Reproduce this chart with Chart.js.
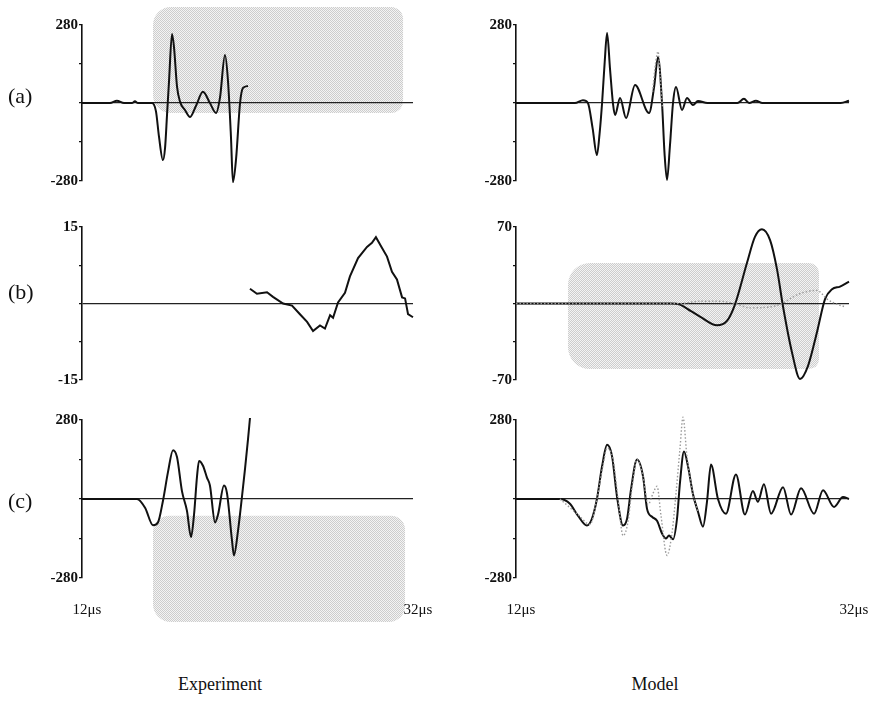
<!DOCTYPE html>
<html>
<head>
<meta charset="utf-8">
<script src="https://cdn.jsdelivr.net/npm/chart.js@4.4.1/dist/chart.umd.min.js"></script>
<style>
    body { margin: 0; background: #fff; width: 882px; height: 702px; position: relative; overflow: hidden;
           font-family: 'Liberation Serif', 'Times New Roman', serif; color: #111; }
    canvas { position: absolute; }
    .lab { position: absolute; left: 8px; font-size: 22px; line-height: 22px; }
    .cap { position: absolute; top: 673px; font-size: 18px; line-height: 22px; width: 200px; text-align: center; }
</style>
</head>
<body>
<canvas id="expA" width="441" height="200" style="left:0;top:0"></canvas>
<canvas id="modA" width="441" height="200" style="left:441px;top:0"></canvas>
<canvas id="expB" width="441" height="200" style="left:0;top:200px"></canvas>
<canvas id="modB" width="441" height="200" style="left:441px;top:200px"></canvas>
<canvas id="expC" width="441" height="240" style="left:0;top:400px"></canvas>
<canvas id="modC" width="441" height="240" style="left:441px;top:400px"></canvas>

<div class="lab" style="top:85px">(a)</div>
<div class="lab" style="top:281px">(b)</div>
<div class="lab" style="top:490px">(c)</div>
<div class="cap" style="left:120px">Experiment</div>
<div class="cap" style="left:555px">Model</div>

<script>
// time axis, microseconds
const timeRange = [12, 32];

// (a) experiment
const expA_t = [12, 13.69, 14.11, 14.54, 15.02, 15.2, 15.38, 16.23, 16.47, 16.65, 16.89, 17.02, 17.14, 17.26, 17.44, 17.56, 17.74, 17.92, 18.22, 18.53, 18.89, 19.31, 19.73, 20.10, 20.34, 20.64, 20.82, 21.00, 21.12, 21.31, 21.55, 21.73, 22.03];
const expA_v = [0, 0, 8, 0, 0, 6, 0, 0, -30, -120, -205, -160, -40, 80, 248, 200, 60, 5, -25, -50, -10, 40, 0, -36, 20, 172, 80, -120, -284, -200, 0, 54, 61];

// (a) model
const modA_t = [12, 15.54, 16.02, 16.32, 16.6, 16.86, 17.02, 17.17, 17.33, 17.47, 17.65, 17.83, 17.95, 18.25, 18.61, 19.15, 19.99, 20.3, 20.53, 20.77, 20.92, 21.07, 21.25, 21.43, 21.61, 21.97, 22.27, 22.63, 22.93, 23.5, 25.3, 25.69, 26.0, 26.41, 26.8, 31.5, 32];
const modA_v = [0, 0, 10, 0, -90, -187, -110, 0, 150, 251, 120, -5, -43, 18, -54, 65, -36, 60, 165, 0, -180, -276, -150, 0, 57, -25, 18, -7, 7, 0, 0, 15, 0, 8, 0, 0, 8];
const modA2_t = [20.2, 20.4, 20.53, 20.65, 20.8];
const modA2_v = [40, 150, 185, 100, -20];

// (b) experiment
const expB_t = [22.15, 22.57, 23.18, 23.54, 24.15, 24.69, 25.17, 25.60, 25.96, 26.38, 26.68, 26.99, 27.17, 27.47, 27.89, 28.19, 28.68, 29.22, 29.52, 29.76, 30.13, 30.43, 30.73, 31.03, 31.34, 31.52, 31.70, 32.0];
const expB_v = [2.9, 1.9, 2.2, 1.3, 0, -0.4, -2.1, -3.6, -5.4, -4.3, -4.9, -2.3, -2.8, 0.2, 2.1, 5.3, 8.9, 11.1, 11.9, 13.0, 10.9, 9.2, 6.2, 4.7, 1.2, 1.0, -2.1, -2.7];

// (b) model
const modB_t = [12, 21.31, 21.85, 22.51, 23.05, 24.07, 24.67, 25.15, 25.87, 26.35, 26.77, 27.26, 27.68, 28.04, 28.58, 29.06, 29.54, 30.08, 30.56, 30.98, 31.46, 32];
const modB_v = [0, 0, -1, -7, -12, -20, -16, -1, 37, 61, 68, 58, 31, -3, -45, -69, -57, -26, 4, 13, 15.5, 20];
const modB2_t = [12, 21.85, 23.05, 24.25, 25.15, 26.05, 27.26, 27.98, 28.76, 29.48, 30.08, 30.68, 31.16, 31.76];
const modB2_v = [0, 0, 2, 2, 0, -4, -3, 0, 7, 11, 12, 4, 0, -3];

// (c) experiment
const expC_t = [12, 15.32, 15.81, 16.29, 16.59, 16.89, 17.20, 17.50, 17.74, 18.04, 18.34, 18.59, 18.77, 18.95, 19.07, 19.31, 19.55, 19.73, 20.04, 20.22, 20.58, 20.76, 21.06, 21.18, 21.43, 21.67, 21.85, 22.03, 22.15];
const expC_v = [0, 0, -31, -93, -83, -7, 97, 173, 149, 28, -41, -135, -55, 80, 135, 118, 76, 48, -83, -55, 48, 21, -145, -200, -111, 10, 107, 211, 287];

// (c) model
const modC_t = [12, 14.64, 15.24, 15.72, 16.26, 16.56, 16.86, 17.17, 17.47, 17.77, 18.07, 18.43, 18.67, 18.91, 19.27, 19.63, 19.87, 20.17, 20.47, 20.77, 21.01, 21.19, 21.43, 21.67, 21.85, 22.09, 22.33, 22.63, 22.93, 23.23, 23.47, 23.71, 24.13, 24.61, 25.21, 25.75, 26.23, 26.53, 26.89, 27.32, 28.04, 28.52, 29.12, 29.90, 30.44, 31.10, 31.64, 32.0];
const modC_v = [0, 0, -17, -59, -94, -70, 0, 116, 192, 151, 7, -94, -70, 35, 140, 80, -35, -63, -77, -122, -140, -129, -143, -70, 59, 168, 116, 17, -45, -98, -10, 122, 0, -52, 87, -55, 28, -10, 52, -52, 42, -55, 38, -52, 31, -28, 7, 0];
const modC2_t = [14.64, 15.72, 16.44, 16.86, 17.23, 17.47, 17.83, 18.13, 18.43, 18.73, 18.97, 19.27, 19.63, 19.93, 20.23, 20.47, 20.71, 21.07, 21.37, 21.61, 21.85, 22.03, 22.27, 22.63, 22.93];
const modC2_v = [0, -55, -90, 0, 120, 180, 140, 0, -130, -80, 40, 140, 80, -20, 20, 45, -60, -200, -120, 20, 180, 290, 150, 17, -45];

// shaded regions [t start, t end, top value, bottom value]
const shadeExpA = [16.29, 31.40, 345, -36];
const shadeModB = [15.12, 30.20, 37, -60];
const shadeExpC = [16.29, 31.52, -59, -436];

// dotted grey fill for the shaded boxes
const dots = document.createElement('canvas');
dots.width = 2; dots.height = 2;
const dctx = dots.getContext('2d');
dctx.fillStyle = '#f4f4f4';
dctx.fillRect(0, 0, 2, 2);
dctx.fillStyle = '#cdcdcd';
dctx.fillRect(0, 0, 1, 1);
dctx.fillRect(1, 1, 1, 1);

const shadePlugin = {
    id: 'shade',
    beforeDraw(chart, args, opts) {
        if (!opts.box) return;
        const [t0, t1, v0, v1] = opts.box;
        const x = chart.scales.x, y = chart.scales.y;
        const left = x.getPixelForValue(t0), right = x.getPixelForValue(t1);
        const top = y.getPixelForValue(v0), bottom = y.getPixelForValue(v1);
        const ctx = chart.ctx;
        ctx.save();
        ctx.fillStyle = ctx.createPattern(dots, 'repeat');
        ctx.beginPath();
        ctx.roundRect(left, top, right - left, bottom - top, opts.radius || [18, 12, 12, 18]);
        ctx.fill();
        ctx.restore();
    }
};

const serif = "'Liberation Serif', 'Times New Roman', serif";

function line(t, v, grey) {
    return {
        data: t.map((x, i) => ({x: x, y: v[i]})),
        borderColor: grey ? '#9a9a9a' : '#111',
        borderWidth: grey ? 1.4 : 2,
        borderDash: grey ? [1.5, 2] : [],
        pointRadius: 0,
        cubicInterpolationMode: 'monotone',
        clip: false
    };
}

function jagged(t, v) {
    const d = line(t, v, false);
    d.cubicInterpolationMode = 'default';
    d.tension = 0;
    return d;
}

function panel(id, cfg) {
    const ctx = document.getElementById(id).getContext('2d');
    const xScale = {
        type: 'linear',
        min: timeRange[0],
        max: timeRange[1],
        display: !!cfg.timeLabels,
        border: {display: false},
        grid: {display: false, drawTicks: false},
        ticks: {
            stepSize: timeRange[1] - timeRange[0],
            autoSkip: false,
            maxRotation: 0,
            padding: 23,
            labelOffset: 5,
            color: '#111',
            font: {family: serif, size: 15},
            callback: v => v + 'μs'
        }
    };
    if (cfg.timeLabels) {
        // fixed height, and keep the tick labels from squeezing the plot area
        xScale.afterFit = s => {
            s.height = 62;
            s.paddingLeft = 0;
            s.paddingRight = 0;
        };
    }

    return new Chart(ctx, {
        type: 'line',
        data: {datasets: cfg.datasets},
        options: {
            responsive: false,
            animation: false,
            layout: {padding: cfg.padding},
            plugins: {
                legend: {display: false},
                tooltip: {enabled: false},
                shade: {box: cfg.box, radius: cfg.radius}
            },
            scales: {
                x: xScale,
                y: {
                    min: -cfg.limit,
                    max: cfg.limit,
                    border: {display: true, color: '#111', width: 1.6},
                    grid: {
                        drawTicks: true,
                        tickLength: 3,
                        tickColor: '#111',
                        lineWidth: 1.3,
                        color: c => (c.tick && c.tick.value === 0) ? '#222' : 'rgba(0,0,0,0)'
                    },
                    ticks: {
                        stepSize: cfg.limit / 2,
                        autoSkip: false,
                        padding: 1,
                        color: '#111',
                        font: {family: serif, size: 15, weight: 'bold'},
                        callback: v => (Math.abs(v) === cfg.limit) ? String(v) : ''
                    },
                    afterFit: s => { s.width = cfg.axisWidth; }
                }
            }
        },
        plugins: [shadePlugin]
    });
}

// Experiment column
panel('expA', {
    limit: 280, axisWidth: 82, padding: {top: 25, bottom: 19, left: 0, right: 28},
    box: shadeExpA,
    datasets: [line(expA_t, expA_v)]
});
panel('expB', {
    limit: 15, axisWidth: 82, padding: {top: 27, bottom: 20, left: 0, right: 28},
    datasets: [jagged(expB_t, expB_v)]
});
panel('expC', {
    limit: 280, axisWidth: 82, padding: {top: 20, bottom: 0, left: 0, right: 28},
    box: shadeExpC, radius: [16, 14, 16, 18], timeLabels: true,
    datasets: [line(expC_t, expC_v)]
});

// Model column
panel('modA', {
    limit: 280, axisWidth: 75, padding: {top: 25, bottom: 19, left: 0, right: 33},
    datasets: [line(modA2_t, modA2_v, true), line(modA_t, modA_v)]
});
panel('modB', {
    limit: 70, axisWidth: 75, padding: {top: 27, bottom: 20, left: 0, right: 33},
    box: shadeModB, radius: [22, 10, 10, 22],
    datasets: [line(modB2_t, modB2_v, true), line(modB_t, modB_v)]
});
panel('modC', {
    limit: 280, axisWidth: 75, padding: {top: 20, bottom: 0, left: 0, right: 33},
    timeLabels: true,
    datasets: [line(modC2_t, modC2_v, true), line(modC_t, modC_v)]
});
</script>
</body>
</html>
